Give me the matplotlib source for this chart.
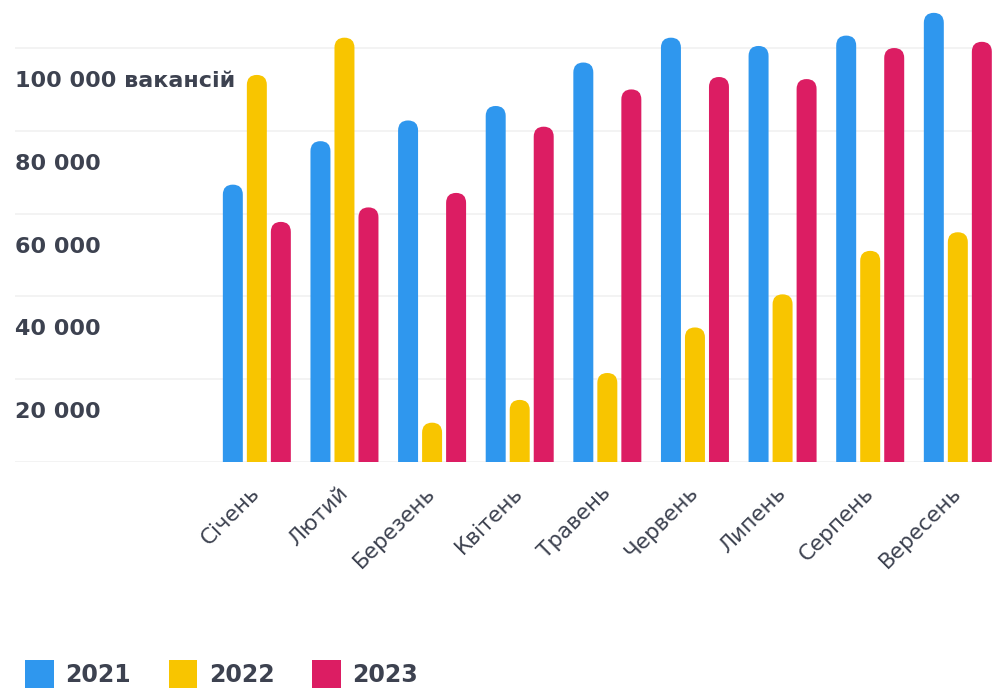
import matplotlib
matplotlib.use('Agg')
import matplotlib.pyplot as plt
from matplotlib.patches import FancyBboxPatch, Patch
import numpy as np

# Дані: кількість вакансій по місяцях
months = ["Січень", "Лютий", "Березень", "Квітень", "Травень",
          "Червень", "Липень", "Серпень", "Вересень"]
vac_2021 = [67000, 77500, 82500, 86000, 96500, 102500, 100500, 103000, 108500]
vac_2022 = [93500, 102500, 9500, 15000, 21500, 32500, 40500, 51000, 55500]
vac_2023 = [58000, 61500, 65000, 81000, 90000, 93000, 92500, 100000, 101500]
years = ["2021", "2022", "2023"]
y_ticks = [20000, 40000, 60000, 80000, 100000]
y_labels = ["20 000", "40 000", "60 000", "80 000", "100 000 вакансій"]

colors = ["#2F97EE", "#F8C500", "#DC1D63"]
text_color = "#3D4250"

W, H = 992, 690
fig = plt.figure(figsize=(W / 100, H / 100), dpi=100)
ax_left, ax_bottom, ax_w, ax_h = 15, 228, 977, 462
ax = fig.add_axes([ax_left / W, ax_bottom / H, ax_w / W, ax_h / H])

x = np.arange(len(months))
xmin, xmax = -2.76, 8.39
ymin, ymax = 0, 111600
ax.set_xlim(xmin, xmax)
ax.set_ylim(ymin, ymax)

# rapporto pixel x/y per arrotondare i tappi delle barre
px_x = ax_w / (xmax - xmin)
px_y = ax_h / (ymax - ymin)
aspect = px_x / px_y

bar_w = 0.228
step = 0.274
series = [vac_2021, vac_2022, vac_2023]
for i, (vals, c) in enumerate(zip(series, colors)):
    bars = ax.bar(x + (i - 1) * step, vals, width=bar_w, color=c)
    for rect in bars:
        bx, bw, bh = rect.get_x(), rect.get_width(), rect.get_height()
        r_y = (bw / 2) * aspect
        patch = FancyBboxPatch((bx, -r_y), bw, bh + r_y,
                               boxstyle=f"round,pad=0,rounding_size={bw / 2}",
                               mutation_aspect=aspect, facecolor=c,
                               edgecolor="none", zorder=3)
        ax.add_patch(patch)
        rect.remove()

# griglia leggera
ax.set_yticks([0] + y_ticks)
ax.set_yticklabels([])
ax.grid(axis="y", color="#F1F1F1", linewidth=1.2, zorder=0)
ax.tick_params(axis="y", length=0)
for s in ax.spines.values():
    s.set_visible(False)

# etichette asse y sotto le linee
for v, lab in zip(y_ticks, y_labels):
    ax.annotate(lab, xy=(0, v), xycoords=("axes fraction", "data"),
                xytext=(0, -33), textcoords="offset pixels",
                ha="left", va="center", fontsize=16, fontweight="bold",
                color=text_color, zorder=5)

# etichette dei mesi
ax.set_xticks(x)
ax.set_xticklabels(months, rotation=45, ha="right", va="center",
                   rotation_mode="anchor", fontsize=15.5, color=text_color)
ax.tick_params(axis="x", length=0, pad=20)

# legenda
handles = [Patch(facecolor=c, edgecolor="none") for c in colors]
fig.legend(handles, years, loc="lower left", bbox_to_anchor=(4 / W, -19 / H),
           ncol=3, frameon=False, handlelength=1.2,
           handleheight=1.45, handletextpad=0.5, columnspacing=1.6,
           prop={"weight": "bold", "size": 17}, labelcolor=text_color)

fig.savefig("out.png", dpi=100, facecolor="white")
